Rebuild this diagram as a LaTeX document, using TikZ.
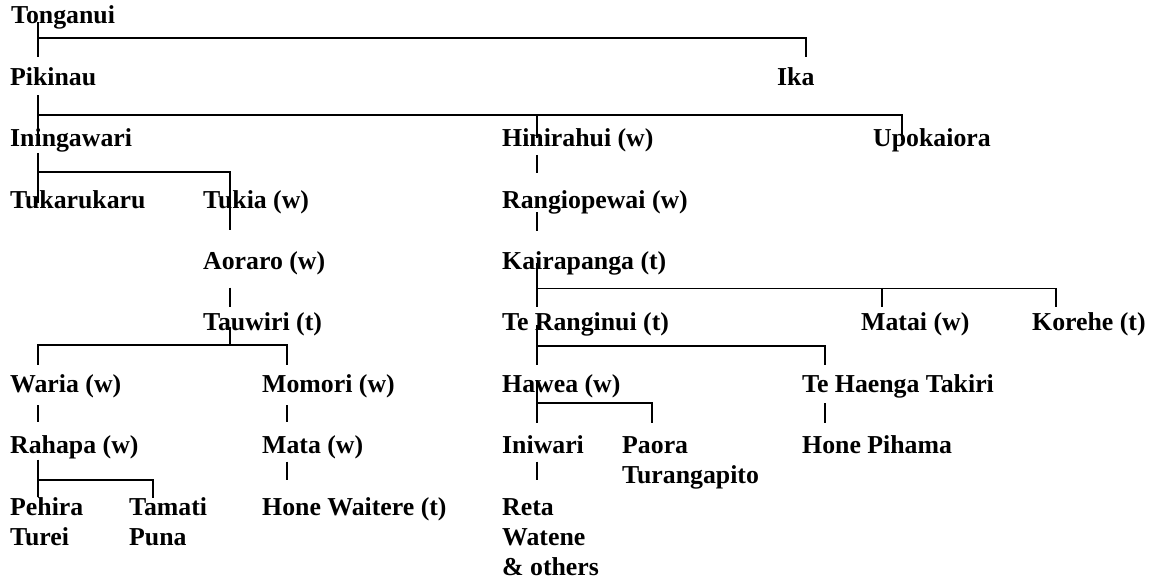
\documentclass[tikz,border=0pt]{standalone}
\usepackage{fontspec}
\setmainfont{Liberation Serif}
\usepackage{tikz}

\tikzset{
  person/.style={anchor=base west,inner sep=0pt,align=left,
    font=\fontsize{25.8}{30}\selectfont\bfseries},
  link/.style={line width=1.9pt}
}

\begin{document}
\begin{tikzpicture}[x=1pt,y=-1pt]
  \useasboundingbox (0,0) rectangle (1153,583);
  % people, one row per generation (multi-line names sit on their last line)
  \node[person] (tonganui) at (11,24) {Tonganui};
  \node[person] (pikinau) at (10,85.4) {Pikinau};
  \node[person] (ika) at (777,85.4) {Ika};
  \node[person] (iningawari) at (10,146.75) {Iningawari};
  \node[person] (hinirahui) at (502,146.75) {Hinirahui (w)};
  \node[person] (upokaiora) at (873,146.75) {Upokaiora};
  \node[person] (tukarukaru) at (10,208.1) {Tukarukaru};
  \node[person] (tukia) at (203,208.1) {Tukia (w)};
  \node[person] (rangiopewai) at (502,208.1) {Rangiopewai (w)};
  \node[person] (aoraro) at (203,269.5) {Aoraro (w)};
  \node[person] (kairapanga) at (502,269.5) {Kairapanga (t)};
  \node[person] (tauwiri) at (203,330.9) {Tauwiri (t)};
  \node[person] (teranginui) at (502,330.9) {Te Ranginui (t)};
  \node[person] (matai) at (861,330.9) {Matai (w)};
  \node[person] (korehe) at (1032,330.9) {Korehe (t)};
  \node[person] (waria) at (10,392.25) {Waria (w)};
  \node[person] (momori) at (262,392.25) {Momori (w)};
  \node[person] (hawea) at (502,392.25) {Hawea (w)};
  \node[person] (tehaenga) at (802,392.25) {Te Haenga Takiri};
  \node[person] (rahapa) at (10,453.6) {Rahapa (w)};
  \node[person] (mata) at (262,453.6) {Mata (w)};
  \node[person] (iniwari) at (502,453.6) {Iniwari};
  \node[person] (paora) at (622,483.6) {Paora\\Turangapito};
  \node[person] (pihama) at (802,453.6) {Hone Pihama};
  \node[person] (pehira) at (10,545) {Pehira\\Turei};
  \node[person] (tamati) at (129,545) {Tamati\\Puna};
  \node[person] (waitere) at (262,515) {Hone Waitere (t)};
  \node[person] (reta) at (502,575) {Reta\\Watene\\\& others};

  % descent lines
  \draw[link] ([shift={(27,-2)}]tonganui.base west) -- ([shift={(28,-28)}]pikinau.base west);
  \draw[link] ([shift={(27,14)}]tonganui.base west) -| ([shift={(29,-28)}]ika.base west);

  \draw[link] ([shift={(28,10)}]pikinau.base west) -- ([shift={(28,-4)}]iningawari.base west);
  \draw[link] ([shift={(28,30)}]pikinau.base west) -| ([shift={(29,-7)}]upokaiora.base west);
  \draw[link] ([shift={(35,-32)}]hinirahui.base west) -- ([shift={(35,-9)}]hinirahui.base west);

  \draw[link] ([shift={(28,6)}]iningawari.base west) -- ([shift={(28,-5)}]tukarukaru.base west);
  \draw[link] ([shift={(28,25)}]iningawari.base west) -| ([shift={(27,22)}]tukia.base west);
  \draw[link] ([shift={(27,18)}]aoraro.base west) -- ([shift={(27,-24)}]tauwiri.base west);

  \draw[link] ([shift={(27,-4)}]tauwiri.base west) -- ++(0,18) -| ([shift={(28,-27)}]waria.base west);
  \draw[link] ([shift={(27,14)}]tauwiri.base west) -| ([shift={(25,-27)}]momori.base west);
  \draw[link] ([shift={(28,13)}]waria.base west) -- ([shift={(28,-32)}]rahapa.base west);
  \draw[link] ([shift={(25,13)}]momori.base west) -- ([shift={(25,-32)}]mata.base west);

  \draw[link] ([shift={(28,6)}]rahapa.base west) -- ([shift={(28,-48)}]pehira.base west);
  \draw[link] ([shift={(28,26)}]rahapa.base west) -| ([shift={(24,-47)}]tamati.base west);
  \draw[link] ([shift={(25,8)}]mata.base west) -- ([shift={(25,-35)}]waitere.base west);

  \draw[link] ([shift={(35,8)}]hinirahui.base west) -- ([shift={(35,-35)}]rangiopewai.base west);
  \draw[link] ([shift={(35,4)}]rangiopewai.base west) -- ([shift={(35,-39)}]kairapanga.base west);

  \draw[link] ([shift={(35,-7)}]kairapanga.base west) -- ([shift={(35,-24)}]teranginui.base west);
  \draw[link] ([shift={(35,19)}]kairapanga.base west) -| ([shift={(24,-24)}]korehe.base west);
  \draw[link] ([shift={(21,-43)}]matai.base west) -- ([shift={(21,-24)}]matai.base west);

  \draw[link] ([shift={(35,-6)}]teranginui.base west) -- ([shift={(35,-27)}]hawea.base west);
  \draw[link] ([shift={(35,15)}]teranginui.base west) -| ([shift={(23,-27)}]tehaenga.base west);

  \draw[link] ([shift={(35,-12)}]hawea.base west) -- ([shift={(35,-31)}]iniwari.base west);
  \draw[link] ([shift={(35,11)}]hawea.base west) -| ([shift={(30,-61)}]paora.base west);
  \draw[link] ([shift={(23,11)}]tehaenga.base west) -- ([shift={(23,-31)}]pihama.base west);
  \draw[link] ([shift={(35,8)}]iniwari.base west) -- ([shift={(35,-95)}]reta.base west);
\end{tikzpicture}
\end{document}
